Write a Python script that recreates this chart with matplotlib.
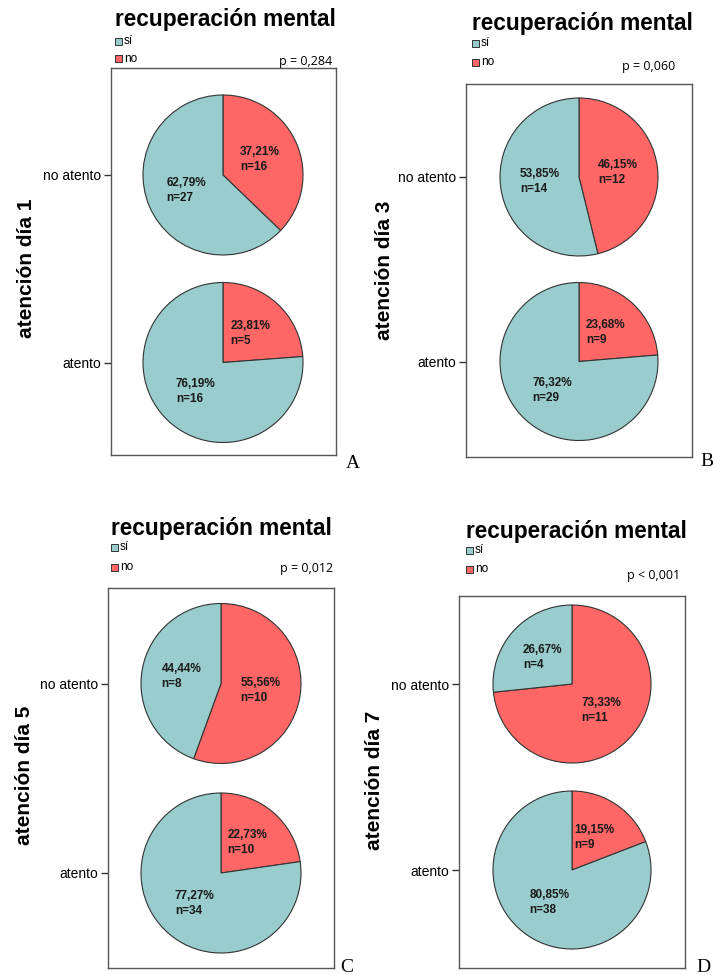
import math
import matplotlib
matplotlib.use('Agg')
import matplotlib.pyplot as plt
import matplotlib.patches as mpatches

plt.rcParams['font.family'] = ['Liberation Sans', 'DejaVu Sans']

# Datos: recuentos de recuperación mental (sí / no) por grupo de atención
paneles = ['A', 'B', 'C', 'D']
dias = ['atención día 1', 'atención día 3', 'atención día 5', 'atención día 7']
p_textos = ['p = 0,284', 'p = 0,060', 'p = 0,012', 'p < 0,001']
categorias = ['no atento', 'atento']
leyenda = ['sí', 'no']
si_no_atento = [27, 14, 8, 4]
no_no_atento = [16, 12, 10, 11]
si_atento = [16, 29, 34, 38]
no_atento = [5, 9, 10, 9]

VERDE = '#99CCCC'
ROJO = '#FF6666'
W, H = 713, 975

# Geometría de cada panel en píxeles (izq, arriba, der, abajo), centros y radio
cajas = [(111, 68, 336, 455), (466, 84, 692, 457), (108, 588, 334, 968), (459, 596, 685, 968)]
centros_x = [223, 579, 221, 572]
centros_y = [(175, 362.5), (177, 361.5), (683.5, 873), (684, 870)]
radios = [80, 79, 80, 79]
ylabel_pos = [(27, 268), (385, 270), (25, 775), (375, 780)]
titulo_pos = [(115, 26), (472, 30), (111, 535), (466, 538)]
leyenda_y = [(41, 58.5), (43, 62), (547, 567), (550, 569)]
p_pos = [(332, 65), (675, 70), (333, 572), (680, 579)]
letra_pos = [(346, 468), (700, 466), (340, 972), (696, 972)]

fig = plt.figure(figsize=(W / 100, H / 100), dpi=100)


def fx(x):
    return x / W


def fy(y):
    return 1 - y / H


for i in range(4):
    l, t, r, b = cajas[i]
    ax = fig.add_axes([fx(l), fy(b), (r - l) / W, (b - t) / H])
    conteos = [(no_no_atento[i], si_no_atento[i]), (no_atento[i], si_atento[i])]
    cx = centros_x[i]
    for (n_no, n_si), cy_img in zip(conteos, centros_y[i]):
        cy = H - cy_img
        total = n_no + n_si
        wedges, _ = ax.pie([n_no, n_si], colors=[ROJO, VERDE], startangle=90,
                           counterclock=False, center=(cx, cy), radius=radios[i],
                           frame=True,
                           wedgeprops=dict(edgecolor='#333333', linewidth=0.8))
        for w, n in zip(wedges, [n_no, n_si]):
            ang = math.radians((w.theta1 + w.theta2) / 2)
            pct = f'{100 * n / total:.2f}%'.replace('.', ',')
            ax.text(cx + 0.5 * radios[i] * math.cos(ang),
                    cy + 0.5 * radios[i] * math.sin(ang),
                    f'{pct}\nn={n}', ha='center', va='center', ma='left',
                    fontsize=8.5, fontweight='bold', color='#1a1a1a',
                    linespacing=1.35)
    ax.set_aspect('auto')
    ax.set_xlim(l, r)
    ax.set_ylim(H - b, H - t)
    ax.set_xticks([])
    ax.set_yticks([H - c for c in centros_y[i]], categorias, fontsize=10)
    ax.tick_params(axis='y', length=5, width=1, color='#333333', pad=2)
    for s in ax.spines.values():
        s.set_color('#555555')
        s.set_linewidth(1)
        s.set_visible(True)

    # etiqueta del eje
    fig.text(fx(ylabel_pos[i][0]), fy(ylabel_pos[i][1]), dias[i], rotation=90,
             ha='center', va='center', fontsize=15, fontweight='bold')
    # título y leyenda
    fig.text(fx(titulo_pos[i][0]), fy(titulo_pos[i][1]), 'recuperación mental',
             ha='left', va='baseline', fontsize=16.3, fontweight='bold')
    for txt, col, yy in zip(leyenda, [VERDE, ROJO], leyenda_y[i]):
        x0 = titulo_pos[i][0]
        fig.patches.append(mpatches.Rectangle((fx(x0), fy(yy + 3.5)), 7 / W, 7 / H,
                                              transform=fig.transFigure,
                                              facecolor=col, edgecolor='#333333',
                                              linewidth=0.7))
        fig.text(fx(x0 + 9), fy(yy), txt, ha='left', va='center', fontsize=8.5)
    fig.text(fx(p_pos[i][0]), fy(p_pos[i][1]), p_textos[i], ha='right',
             va='baseline', fontsize=9, family=['Open Sans', 'DejaVu Sans'])
    fig.text(fx(letra_pos[i][0]), fy(letra_pos[i][1]), paneles[i], ha='left',
             va='baseline', fontsize=14, family=['Liberation Serif', 'DejaVu Serif'])

fig.savefig('out.png', dpi=100)
